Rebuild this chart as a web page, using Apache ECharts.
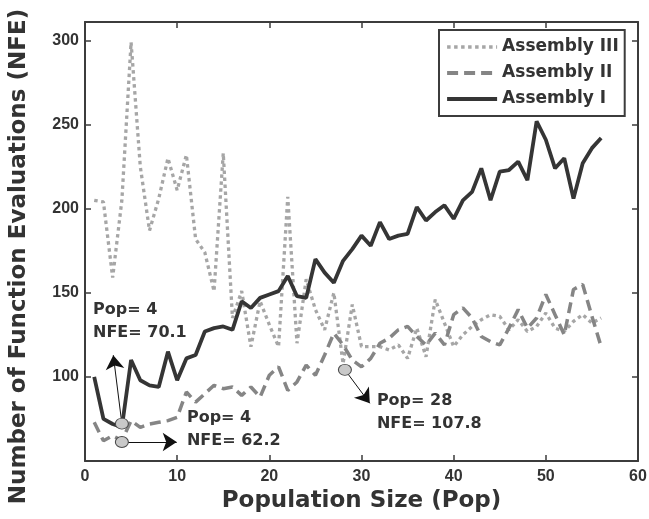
<!DOCTYPE html>
<html><head><meta charset="utf-8">
<script src="https://cdn.jsdelivr.net/npm/echarts@6/dist/echarts.min.js"></script>
<style>html,body{margin:0;padding:0;background:#fff}#c{width:649px;height:519px}</style>
</head><body><div id="c"></div>
<script>
const pop = [1,2,3,4,5,6,7,8,9,10,11,12,13,14,15,16,17,18,19,20,21,22,23,24,25,26,27,28,29,30,31,32,33,34,35,36,37,38,39,40,41,42,43,44,45,46,47,48,49,50,51,52,53,54,55,56];
const nfeAssemblyI = [100,75,72,70.1,110,98,95,94,115,98,111,113,127,129,130,128,145,141,147,149,151,160,148,147,170,162,156,169,176,184,178,192,182,184,185,201,193,198,202,194,205,210,224,205,222,223,228,217,252,241,224,230,206,227,236,242];
const nfeAssemblyII = [73,62,65,62.2,74,70,72,73,74,76,91,85,90,95,93,94,89,94,88,101,106,92,97,107,101,113,126,119,110,106,111,120,123,128,130,124,119,126,119,137,141,135,124,121,119,129,140,129,135,149,137,125,152,155,136,118];
const nfeAssemblyIII = [205,204,159,205,299,225,187,206,230,211,232,182,174,151,233,135,151,118,145,131,118,207,120,158,140,128,150,107.8,143,118,118,118,116,119,111,129,112,146,132,118,125,130,134,137,136,128,134,127,130,138,129,127,133,137,132,135];
const seriesNames = ['Assembly III','Assembly II','Assembly I'];
const xTickValues = [0,10,20,30,40,50,60];
const yTickValues = [100,150,200,250,300];
const annotPoints = [[4,72.2],[4,61.3],[28.2,104.2]];
const annotTips = [[3.07,112.9],[9.95,61.3],[30.9,84.3]];
const annotTextAnchors = [[0.87,132.9],[11.06,68.6],[31.67,79.2]];
const annotTexts = ['Pop= 4\nNFE= 70.1','Pop= 4\nNFE= 62.2','Pop= 28\nNFE= 107.8'];

const AX = '#3c3c3c', TXT = '#333333';
const styles = {
  'Assembly III':{color:'#a6a6a6',width:3.3,type:[3.5,3.5],cap:'butt'},
  'Assembly II':{color:'#858585',width:3.5,type:[11,6],cap:'butt'},
  'Assembly I':{color:'#353535',width:3.8,type:'solid',cap:'butt'}
};
const pair = arr => pop.map((p,i)=>[p,arr[i]]);
const tickFmtX = v => xTickValues.includes(v) ? String(v) : '';
const tickFmtY = v => yTickValues.includes(v) ? String(v) : '';
const axisCommon = {
  axisLine:{show:true,onZero:false,lineStyle:{color:AX,width:2}},
  axisTick:{show:true,inside:true,length:6,lineStyle:{color:AX,width:1.5}},
  splitLine:{show:false}
};
const chart = echarts.init(document.getElementById('c'), null, {renderer:'canvas'});
chart.setOption({
  animation:false,
  backgroundColor:'#fff',
  grid:{left:85,right:11,top:22,bottom:58,containLabel:false,outerBoundsMode:'none'},
  legend:{
    data:seriesNames.map(n=>({name:n,lineStyle:Object.assign({},styles[n],{width:styles[n].width+0.4})})),
    orient:'vertical', left:439, top:30,
    padding:[7,6,7,6], itemGap:6, itemWidth:50, itemHeight:14,
    borderColor:AX, borderWidth:2, backgroundColor:'#fff', borderRadius:0,
    itemStyle:{opacity:0,borderWidth:0},
    textStyle:{fontSize:17,fontWeight:'bold',fontFamily:'DejaVu Sans',color:TXT,lineHeight:20},
    selectedMode:false
  },
  xAxis:[
    Object.assign({type:'value',min:0,max:60,interval:10,position:'bottom',
      axisLabel:{color:TXT,fontSize:16,fontWeight:'bold',fontFamily:'Liberation Sans',margin:8,formatter:tickFmtX},
      name:'Population Size (Pop)',nameLocation:'middle',nameGap:22,
      nameTextStyle:{fontSize:23,fontWeight:'bold',fontFamily:'DejaVu Sans',color:TXT}},axisCommon),
    Object.assign({type:'value',min:0,max:60,interval:10,position:'top',axisLabel:{show:false}},axisCommon)
  ],
  yAxis:[
    Object.assign({type:'value',min:50,max:311,interval:50,position:'left',
      axisLabel:{color:TXT,fontSize:16,fontWeight:'bold',fontFamily:'Liberation Sans',margin:6,formatter:tickFmtY},
      name:'Number of Function Evaluations (NFE)',nameLocation:'middle',nameGap:54,
      nameTextStyle:{fontSize:23,fontWeight:'bold',fontFamily:'DejaVu Sans',color:TXT,padding:[0,30,0,0]}},axisCommon),
    Object.assign({type:'value',min:50,max:311,interval:50,position:'right',axisLabel:{show:false}},axisCommon)
  ],
  series:[
    {name:'Assembly III',type:'line',data:pair(nfeAssemblyIII),symbol:'none',
     lineStyle:styles['Assembly III'],itemStyle:{color:'#a6a6a6'},z:2},
    {name:'Assembly II',type:'line',data:pair(nfeAssemblyII),symbol:'none',
     lineStyle:styles['Assembly II'],itemStyle:{color:'#858585'},z:3},
    {name:'Assembly I',type:'line',data:pair(nfeAssemblyI),symbol:'none',
     lineStyle:{color:'#353535',width:3.8},itemStyle:{color:'#353535'},z:4},
    {name:'annotText',type:'scatter',symbolSize:0,silent:true,z:5,
     data:annotTextAnchors.map((p,i)=>({value:p,label:{formatter:annotTexts[i]}})),
     itemStyle:{color:'rgba(0,0,0,0)',opacity:1},
     label:{show:true,position:'right',distance:0,color:TXT,opacity:1,fontSize:16,fontWeight:'bold',fontFamily:'DejaVu Sans',lineHeight:23,align:'left',verticalAlign:'middle'},
     markLine:{silent:true,symbol:['none','arrow'],symbolSize:14,label:{show:false},
       lineStyle:{color:'#111',width:1,type:'solid',opacity:1},
       data:annotPoints.map((p,i)=>[{coord:p},{coord:annotTips[i]}])}},
    {name:'annotPoint',type:'scatter',silent:true,z:10,symbol:'circle',symbolSize:[13,11],
     data:annotPoints,itemStyle:{color:'#c9c9c9',borderColor:'#4a4a4a',borderWidth:1,opacity:1}}
  ]
});
</script></body></html>
